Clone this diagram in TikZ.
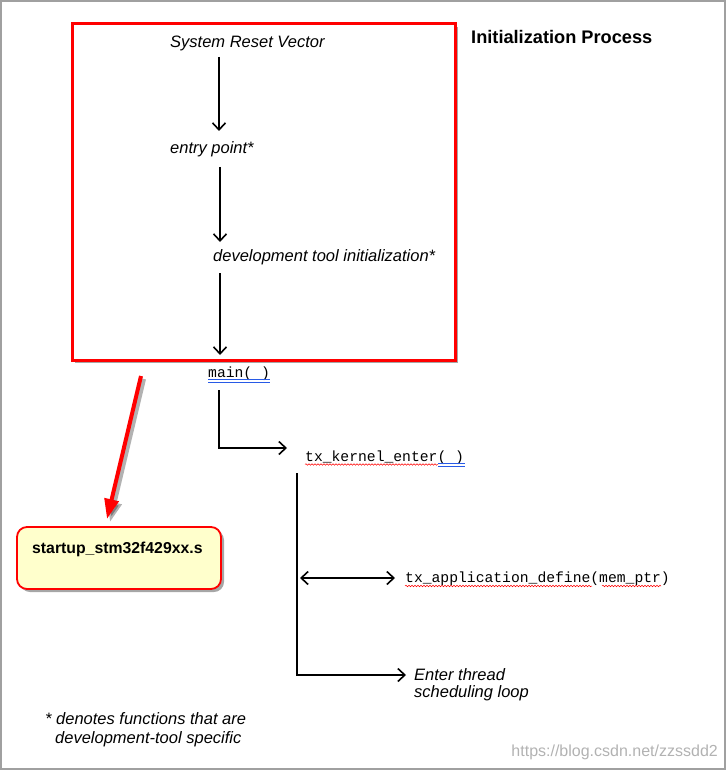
\documentclass[tikz,border=0pt]{standalone}
\usepackage{fontspec}
\setmainfont{Liberation Sans}
\newfontfamily\monof{Liberation Mono}
\usetikzlibrary{arrows.meta,shadows,decorations.pathmorphing}
\definecolor{paleyellow}{RGB}{255,255,204}
\definecolor{framegray}{RGB}{160,160,160}
\definecolor{spellblue}{RGB}{40,90,230}
\begin{document}
\begin{tikzpicture}[x=1pt,y=-1pt,
  lbl/.style={inner sep=0pt, anchor=base west, font=\fontsize{16.5}{19}\selectfont\itshape},
  code/.style={inner sep=0pt, anchor=base west, font=\fontsize{14.7}{17}\selectfont\monof},
  arr/.style={line width=1.6pt, -{Straight Barb[length=7pt,width=13pt,line width=1.6pt]}},
  dblarr/.style={line width=1.6pt, {Straight Barb[length=7pt,width=13pt,line width=1.6pt]}-{Straight Barb[length=7pt,width=13pt,line width=1.6pt]}},
  wavy/.style={red, line width=0.5pt, decorate, decoration={snake, amplitude=0.8pt, segment length=3pt}},
  dbl/.style={spellblue, line width=0.6pt},
  boxshadow/.style={drop shadow={shadow xshift=3pt, shadow yshift=-3pt, opacity=0.35, fill=black}}
]
\useasboundingbox (0,0) rectangle (726,770);
% outer frame
\draw[framegray, line width=2pt] (1,1) rectangle (724.5,768.5);

% red box
\node[draw=red, line width=3pt, fill=white, boxshadow, minimum width=383pt, minimum height=336pt, inner sep=0pt, outer sep=0pt] (box) at (263.5,192) {};

% title
\node[inner sep=0pt, anchor=base west, font=\fontsize{18.2}{21}\selectfont\bfseries] (title) at (471,44) {Initialization Process};

% texts in box
\node[lbl] (srv) at (170,48) {System Reset Vector};
\node[lbl] (ep) at (170,154) {entry point*};
\node[lbl] (dti) at (213,261) {development tool initialization*};
\node[code] (main) at (208,377) {main(\ )};

\coordinate (a1s) at (219,57);  \coordinate (a1e) at (219,131);
\coordinate (a2s) at (220,167); \coordinate (a2e) at (220,242);
\coordinate (a3s) at (220,273); \coordinate (a3e) at (220,355);
\draw[arr] (a1s) -- (a1e);
\draw[arr] (a2s) -- (a2e);
\draw[arr] (a3s) -- (a3e);

% main underline
\draw[dbl] (208,379.5) -- (270,379.5);
\draw[dbl] (208,381.8) -- (270,381.8);

% tx_kernel_enter
\node[code] (tke) at (305,461) {tx\_kernel\_enter(\ )};
\coordinate (m1) at (219,390); \coordinate (m2) at (287,448);
\draw[arr] (m1) |- (m2);
\draw[wavy] (305,464.5) -- (438,464.5);
\draw[dbl] (438,463.5) -- (465,463.5);
\draw[dbl] (438,465.8) -- (465,465.8);

% vertical line and branches
\coordinate (v1) at (297,473); \coordinate (v2) at (406,675);
\draw[arr] (v1) |- (v2);
\coordinate (d1) at (300,578); \coordinate (d2) at (395,578);
\draw[dblarr] (d1) -- (d2);
\node[code] (tad) at (405,582) {tx\_application\_define(mem\_ptr)};
\draw[wavy] (405,586) -- (592,586);
\draw[wavy] (602,586) -- (661,586);

\node[lbl] (etl) at (414,680) {Enter thread};
\node[lbl] (etl2) at (414,697) {scheduling loop};

% startup box and red arrow
\node[draw=red, line width=1.8pt, fill=paleyellow, rounded corners=10pt, boxshadow, minimum width=204pt, minimum height=62pt, inner sep=0pt] (st) at (119,558) {};
\node[inner sep=0pt, anchor=base west, font=\fontsize{15.8}{18}\selectfont\bfseries] (stt) at (32,553) {startup\_stm32f429xx.s};

\coordinate (r1) at (141,376); \coordinate (r2) at (107,519);
\coordinate (r1s) at (144,379); \coordinate (r2s) at (110,522);
\draw[black, opacity=0.3, line width=4pt, -{Triangle[length=20pt,width=14pt]}] (r1s) -- (r2s);
\draw[red, line width=4pt, -{Triangle[length=20pt,width=14pt]}] (r1) -- (r2);

% footnote
\node[lbl] (fn1) at (45,724) {* denotes functions that are};
\node[lbl] (fn2) at (55,743) {development-tool specific};

% watermark
\node[inner sep=0pt, anchor=base east, text=black!30, font=\fontsize{16}{18}\selectfont] (wm) at (718,756) {https://blog.csdn.net/zzssdd2};
\end{tikzpicture}
\end{document}
